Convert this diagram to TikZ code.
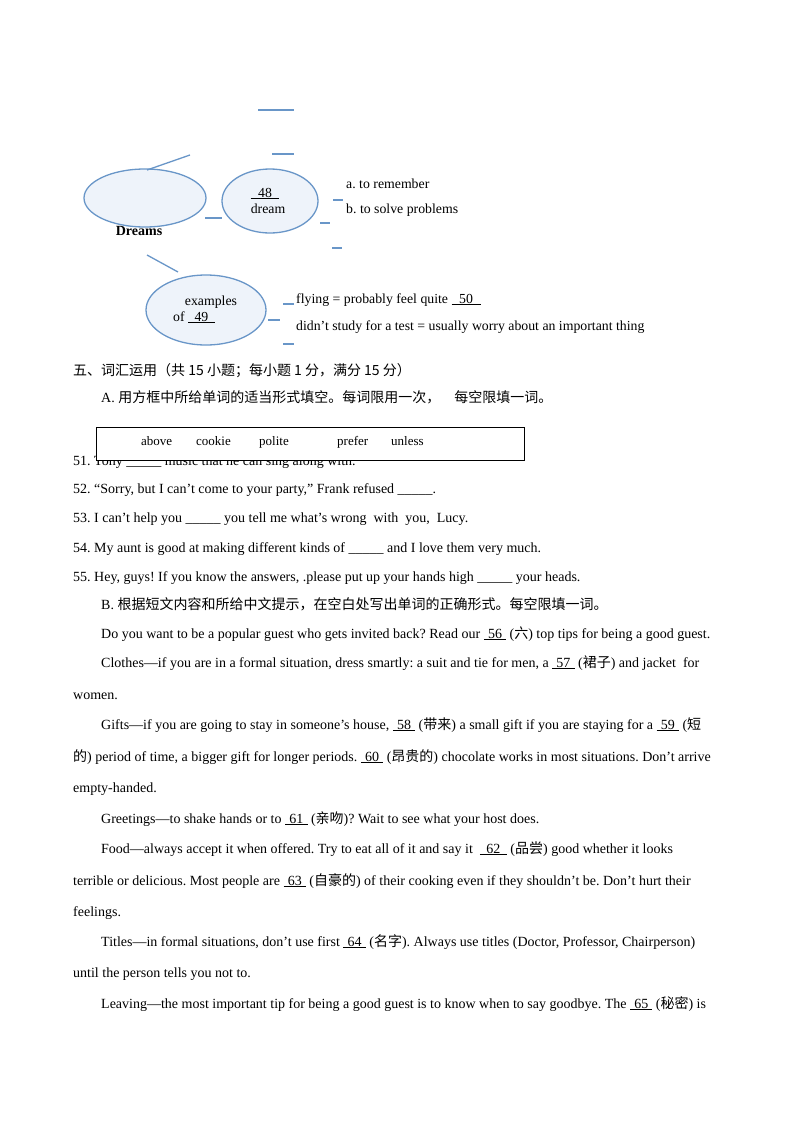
\documentclass[tikz,border=0pt]{standalone}
\usepackage{fontspec}
\usetikzlibrary{shapes.geometric}
\setmainfont{Liberation Serif}
\newfontfamily\cjk{Noto Sans CJK SC}
\newcommand{\bl}[1]{\underline{\hspace{0.3em}#1\hspace{0.3em}}}
\newcommand{\zh}[1]{{\cjk #1}}
\definecolor{mmblue}{RGB}{105,150,200}
\definecolor{mmfill}{RGB}{238,243,250}
\frenchspacing
\begin{document}
\begin{tikzpicture}[x=1pt,y=-1pt,
  t/.style={anchor=base west,inner sep=0pt,font=\fontsize{14}{16}\selectfont},
  sm/.style={anchor=base west,inner sep=0pt,font=\fontsize{13.8}{15}\selectfont},
  bx/.style={anchor=base west,inner sep=0pt,font=\fontsize{13}{15}\selectfont},
  bub/.style={draw=mmblue,line width=1.3pt,fill=mmfill},
  ln/.style={draw=mmblue,line width=1.3pt}]
\useasboundingbox (0,0) rectangle (800,1132);
% mind map
\draw[ln] (258,110) coordinate (l1a) -- (294,110) coordinate (l1b);
\draw[ln] (272,154) coordinate (l2a) -- (294,154) coordinate (l2b);
\node[bub,ellipse,minimum width=122pt,minimum height=58pt,inner sep=0pt] (big) at (145,198) {};
\coordinate (c1) at (190,155);
\draw[ln] (147,170) -- (c1);
\node[anchor=base,inner sep=0pt,font=\fontsize{14}{16}\selectfont\bfseries] (dr) at (139,235) {Dreams};
\draw[ln] (205,218) coordinate (s1) -- (222,218) coordinate (s2);
\node[bub,ellipse,minimum width=96pt,minimum height=64pt,inner sep=0pt] (e2) at (270,201) {};
\node[sm,anchor=base] (n48) at (265,197) {\bl{\ 48\ }};
\node[sm,anchor=base] (dream) at (268,213) {dream};
\draw[ln] (333,200) -- (343,200);
\draw[ln] (320,223) -- (330,223);
\draw[ln] (332,248) -- (342,248);
\node[sm] (a) at (346,188) {a. to remember};
\node[sm] (b) at (346,213) {b. to solve problems};
\coordinate (c2) at (147,255); \coordinate (c3) at (178,272);
\draw[ln] (c2) -- (c3);
\node[bub,ellipse,minimum width=120pt,minimum height=70pt,inner sep=0pt] (e3) at (206,310) {};
\node[sm,anchor=base] (ex) at (211,305) {examples};
\node[sm,anchor=base] (of) at (194,321) {of \bl{\,49\,}};
\draw[ln] (283,304) -- (294,304);
\draw[ln] (268,320) -- (280,320);
\draw[ln] (283,344) -- (294,344);
\node[sm] (fl) at (296,303) {flying = probably feel quite \bl{\ 50\ }};
\node[sm] (dd) at (296,330) {didn’t study for a test = usually worry about an important thing};
% section
\node[t] (h5) at (73,375) {\zh{五、词汇运用（共 15 小题；每小题 1 分，满分 15 分）}};
\node[t] (hA) at (101,402) {A. \zh{用方框中所给单词的适当形式填空。每词限用一次，\quad 每空限填一词。}};
\node[t] (q51) at (73,465) {51. Tony \_\_\_\_\_ music that he can sing along with.};
\node[draw,line width=0.9pt,fill=white,minimum width=428pt,minimum height=33pt,inner sep=0pt] (box) at (310,443.5) {};
\node[bx] at (141,445) {above}; \node[bx] at (196,445) {cookie};
\node[bx] at (259,445) {polite}; \node[bx] at (337,445) {prefer}; \node[bx] at (391,445) {unless};
\node[t] at (73,493) {52. “Sorry, but I can’t come to your party,” Frank refused \_\_\_\_\_.};
\node[t] at (73,522) {53. I can’t help you \_\_\_\_\_ you tell me what’s wrong\ \ with\ \ you,\ \ Lucy.};
\node[t] at (73,552) {54. My aunt is good at making different kinds of \_\_\_\_\_ and I love them very much.};
\node[t] at (73,581) {55. Hey, guys! If you know the answers, .please put up your hands high \_\_\_\_\_ your heads.};
\node[t] at (101,609) {B. \zh{根据短文内容和所给中文提示，在空白处写出单词的正确形式。每空限填一词。}};
\node[t] at (101,638) {Do you want to be a popular guest who gets invited back? Read our \bl{56} (\zh{六}) top tips for being a good guest.};
\node[t] at (101,667) {Clothes—if you are in a formal situation, dress smartly: a suit and tie for men, a \bl{57} (\zh{裙子}) and jacket\ \ for};
\node[t] at (73,699) {women.};
\node[t] at (101,729) {Gifts—if you are going to stay in someone’s house, \bl{58} (\zh{带来}) a small gift if you are staying for a \bl{59} (\zh{短}};
\node[t] at (73,761) {\zh{的}) period of time, a bigger gift for longer periods. \bl{60} (\zh{昂贵的}) chocolate works in most situations. Don’t arrive};
\node[t] at (73,792) {empty-handed.};
\node[t] at (101,823) {Greetings—to shake hands or to \bl{61} (\zh{亲吻})? Wait to see what your host does.};
\node[t] at (101,853) {Food—always accept it when offered. Try to eat all of it and say it \ \bl{\,62\,} (\zh{品尝}) good whether it looks};
\node[t] at (73,885) {terrible or delicious. Most people are \bl{63} (\zh{自豪的}) of their cooking even if they shouldn’t be. Don’t hurt their};
\node[t] at (73,916) {feelings.};
\node[t] at (101,946) {Titles—in formal situations, don’t use first \bl{64} (\zh{名字}). Always use titles (Doctor, Professor, Chairperson)};
\node[t] at (73,977) {until the person tells you not to.};
\node[t] at (101,1008) {Leaving—the most important tip for being a good guest is to know when to say goodbye. The \bl{65} (\zh{秘密}) is};
\end{tikzpicture}
\end{document}
